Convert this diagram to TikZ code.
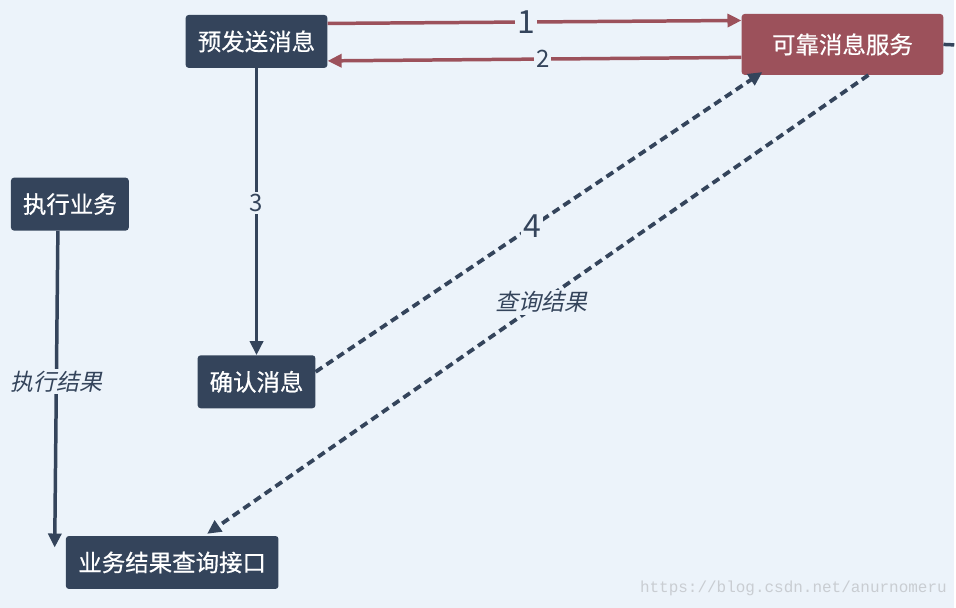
\documentclass[tikz,border=0pt]{standalone}
\usepackage{fontspec}
\setmainfont{Noto Sans CJK SC}
\newfontfamily\cjkslant[FakeSlant=0.22]{Noto Sans CJK SC}
\newfontfamily\cjkheavy[FakeBold=0.6]{Noto Sans CJK SC}
\newfontfamily\markfont{Liberation Mono}
\usepackage{tikz}
\usetikzlibrary{
  arrows.meta,
  positioning,
}
\definecolor{slate}{HTML}{34445B}
\definecolor{wine}{HTML}{9C515B}
\definecolor{pagebg}{HTML}{ECF3FA}
\definecolor{markgrey}{HTML}{C9CDD2}
\tikzset{
  >={Triangle[length=14pt,width=13pt]},
  box/.style={
    fill=#1,
    rounded corners=3pt,
    text=white,
    font=\cjkheavy\fontsize{23.5}{26}\selectfont,
    inner sep=0pt,
    minimum height=53pt,
  },
  flow/.style={line width=3.5pt, draw=slate, ->},
  redflow/.style={line width=3.5pt, draw=wine, ->},
  dashflow/.style={line width=3.8pt, draw=slate, dash pattern=on 8pt off 5pt, ->},
  num/.style={fill=pagebg, text=slate, inner sep=2pt, font=\fontsize{#1}{#1}\selectfont},
  tag/.style={fill=pagebg, text=slate, inner sep=2pt, font=\cjkslant\fontsize{23}{25}\selectfont},
}

\begin{document}
\begin{tikzpicture}[x=1pt,y=-1pt]
  \fill[pagebg] (0,0) rectangle (956,609);

  \node[box=slate, minimum width=142pt] (pre) at (257,41.5) {预发送消息};
  \node[box=wine, minimum width=202pt, minimum height=61pt] (svc) at (844,44.5) {可靠消息服务};
  \node[box=slate, minimum width=118pt] (exe) at (70,204.5) {执行业务};
  \node[box=slate, minimum width=118pt] (conf) at (257,382.5) {确认消息};
  \node[box=slate, minimum width=213pt] (res) at (172.5,563.5) {业务结果查询接口};

  % stub leaving the picture on the right
  \coordinate (off) at (956,45);
  \draw[line width=3.5pt, slate] (svc.east) -- (off);

  \draw[redflow] ([yshift=18pt]pre.east) -- node[num=32, pos=0.48] {1} ([yshift=24pt]svc.west);
  \draw[redflow] ([yshift=-13pt]svc.west) -- node[num=24, pos=0.48] {2} ([yshift=-19.5pt]pre.east);
  \draw[flow] (pre.south) -- node[num=24, pos=0.47] {3} (conf.north);
  \draw[flow] ([xshift=-12pt]exe.south) -- node[tag, pos=0.476] {执行结果} ([shift={(-11pt,15pt)}]res.west);
  \draw[dashflow] ([yshift=10pt]conf.east) -- node[num=32, pos=0.485] {4} ([xshift=21pt,yshift=3pt]svc.south west);
  \draw[dashflow] ([xshift=26pt]svc.south) -- node[tag, pos=0.495] {查询结果} ([xshift=35pt,yshift=2pt]res.north);

  \node[text=markgrey, font=\markfont\fontsize{16}{16}\selectfont, anchor=east] (mark) at (952,589) {https://blog.csdn.net/anurnomeru};
\end{tikzpicture}
\end{document}
